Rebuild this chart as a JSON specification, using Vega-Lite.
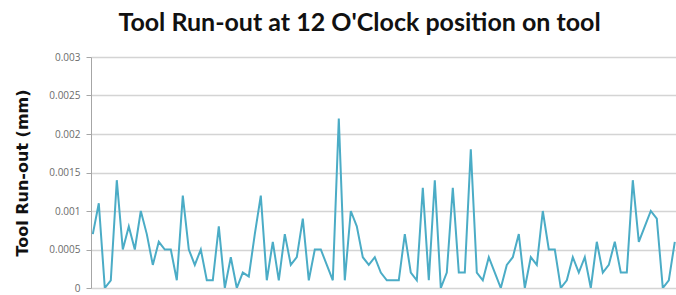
{
  "$schema": "https://vega.github.io/schema/vega-lite/v6.json",
  "width": 585,
  "height": 231,
  "autosize": "none",
  "padding": {"left": 91, "top": 57, "right": 0, "bottom": 7},
  "background": "white",
  "title": {
    "text": "Tool Run-out at 12 O'Clock position on tool",
    "font": "Lato",
    "fontSize": 25,
    "fontWeight": "bold",
    "color": "#111111",
    "anchor": "middle",
    "dx": -24,
    "offset": 16
  },
  "config": {
    "view": {"stroke": null},
    "axis": {"labelFont": "Open Sans"}
  },
  "data": {
    "values": [
      {"i": 1, "v": 0.0007}, {"i": 2, "v": 0.0011}, {"i": 3, "v": 0}, {"i": 4, "v": 0.0001},
      {"i": 5, "v": 0.0014}, {"i": 6, "v": 0.0005}, {"i": 7, "v": 0.0008}, {"i": 8, "v": 0.0005},
      {"i": 9, "v": 0.001}, {"i": 10, "v": 0.0007}, {"i": 11, "v": 0.0003}, {"i": 12, "v": 0.0006},
      {"i": 13, "v": 0.0005}, {"i": 14, "v": 0.0005}, {"i": 15, "v": 0.0001}, {"i": 16, "v": 0.0012},
      {"i": 17, "v": 0.0005}, {"i": 18, "v": 0.0003}, {"i": 19, "v": 0.0005}, {"i": 20, "v": 0.0001},
      {"i": 21, "v": 0.0001}, {"i": 22, "v": 0.0008}, {"i": 23, "v": 0}, {"i": 24, "v": 0.0004},
      {"i": 25, "v": 0}, {"i": 26, "v": 0.0002}, {"i": 27, "v": 0.00015}, {"i": 28, "v": 0.0007},
      {"i": 29, "v": 0.0012}, {"i": 30, "v": 0.0001}, {"i": 31, "v": 0.0006}, {"i": 32, "v": 0.0001},
      {"i": 33, "v": 0.0007}, {"i": 34, "v": 0.0003}, {"i": 35, "v": 0.0004}, {"i": 36, "v": 0.0009},
      {"i": 37, "v": 0.0001}, {"i": 38, "v": 0.0005}, {"i": 39, "v": 0.0005}, {"i": 40, "v": 0.0003},
      {"i": 41, "v": 0.0001}, {"i": 42, "v": 0.0022}, {"i": 43, "v": 0.0001}, {"i": 44, "v": 0.001},
      {"i": 45, "v": 0.0008}, {"i": 46, "v": 0.0004}, {"i": 47, "v": 0.0003}, {"i": 48, "v": 0.0004},
      {"i": 49, "v": 0.0002}, {"i": 50, "v": 0.0001}, {"i": 51, "v": 0.0001}, {"i": 52, "v": 0.0001},
      {"i": 53, "v": 0.0007}, {"i": 54, "v": 0.0002}, {"i": 55, "v": 0.0001}, {"i": 56, "v": 0.0013},
      {"i": 57, "v": 0.0001}, {"i": 58, "v": 0.0014}, {"i": 59, "v": 0}, {"i": 60, "v": 0.0002},
      {"i": 61, "v": 0.0013}, {"i": 62, "v": 0.0002}, {"i": 63, "v": 0.0002}, {"i": 64, "v": 0.0018},
      {"i": 65, "v": 0.0002}, {"i": 66, "v": 0.0001}, {"i": 67, "v": 0.0004}, {"i": 68, "v": 0.0002},
      {"i": 69, "v": 0}, {"i": 70, "v": 0.0003}, {"i": 71, "v": 0.0004}, {"i": 72, "v": 0.0007},
      {"i": 73, "v": 0}, {"i": 74, "v": 0.0004}, {"i": 75, "v": 0.0003}, {"i": 76, "v": 0.001},
      {"i": 77, "v": 0.0005}, {"i": 78, "v": 0.0005}, {"i": 79, "v": 0}, {"i": 80, "v": 0.0001},
      {"i": 81, "v": 0.0004}, {"i": 82, "v": 0.0002}, {"i": 83, "v": 0.0004}, {"i": 84, "v": 0},
      {"i": 85, "v": 0.0006}, {"i": 86, "v": 0.0002}, {"i": 87, "v": 0.0003}, {"i": 88, "v": 0.0006},
      {"i": 89, "v": 0.0002}, {"i": 90, "v": 0.0002}, {"i": 91, "v": 0.0014}, {"i": 92, "v": 0.0006},
      {"i": 93, "v": 0.0008}, {"i": 94, "v": 0.001}, {"i": 95, "v": 0.0009}, {"i": 96, "v": 0},
      {"i": 97, "v": 0.0001}, {"i": 98, "v": 0.0006}
    ]
  },
  "mark": {"type": "line", "color": "#4BACC6", "strokeWidth": 2, "clip": true},
  "encoding": {
    "x": {
      "field": "i",
      "type": "quantitative",
      "scale": {"domain": [0.7, 98.2], "nice": false, "zero": false},
      "axis": null
    },
    "y": {
      "field": "v",
      "type": "quantitative",
      "scale": {"domain": [0, 0.003], "nice": false},
      "axis": {
        "title": "Tool Run-out (mm)",
        "titleFont": "DejaVu Sans",
        "titleFontSize": 16,
        "titleFontWeight": "bold",
        "titleColor": "#111111",
        "titlePadding": 18,
        "values": [0, 0.0005, 0.001, 0.0015, 0.002, 0.0025, 0.003],
        "format": "~g",
        "labelFontSize": 10,
        "labelColor": "#6b6b6b",
        "labelPadding": 6,
        "tickSize": 5,
        "tickColor": "#a6a6a6",
        "domainColor": "#a6a6a6",
        "gridColor": "#d4d4d4",
        "gridWidth": 1.5
      }
    }
  }
}
